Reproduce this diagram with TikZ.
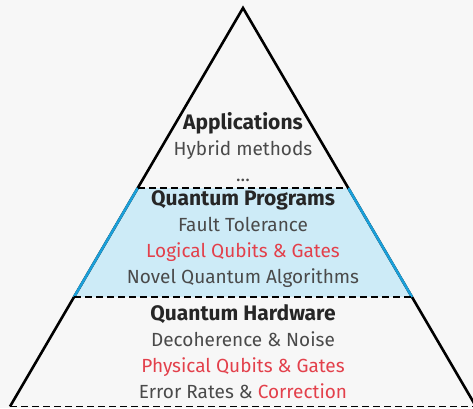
\documentclass[tikz,border=0pt]{standalone}
\usepackage{fontspec}
\setmainfont{Fira Sans}
\usetikzlibrary{positioning, calc}
\definecolor{bgcol}{HTML}{F7F7F7}
\definecolor{txtgray}{HTML}{4A4A4A}
\definecolor{txtdark}{HTML}{262626}
\definecolor{txtred}{HTML}{E3404B}
\definecolor{progfill}{HTML}{CDEBF7}
\definecolor{progline}{HTML}{1A9FD9}
% Schichttitel
\newcommand{\layertitle}[1]{{\fontsize{21}{26}\selectfont\bfseries\color{txtdark}#1}}

\begin{document}
\begin{tikzpicture}[
    x=1pt, y=-1pt,
    % Textblock einer Schicht
    layer/.style={align=center, inner sep=0pt, text=txtgray,
        font=\fontsize{19}{26}\selectfont},
    % Schichtgrenze
    border/.style={dashed, dash pattern=on 7pt off 4pt, line width=1.6pt, black},
    % Seiten der Pyramide
    side/.style={line width=2.6pt, black, line join=miter}
]
\useasboundingbox[fill=bgcol] (0,0) rectangle (473,408);

% Ecken der Pyramide
\coordinate (top) at (243,8);
\coordinate (bl) at (10,406.5);
\coordinate (br) at (476,406.5);
\coordinate (pl) at ($(top)!0.4517!(bl)$);
\coordinate (pr) at ($(top)!0.4517!(br)$);
\coordinate (hl) at ($(top)!0.7252!(bl)$);
\coordinate (hr) at ($(top)!0.7252!(br)$);

% Mittlere Schicht
\fill[progfill] (pl) -- (pr) -- (hr) -- (hl) -- cycle;
\draw[side] (bl) -- (top) -- (br);
\draw[line width=2.6pt, progline] (pl) -- (hl) (pr) -- (hr);
\draw[border] (pl) -- (pr);
\draw[border] (hl) -- (hr);
\draw[border] (bl) -- (br);

% Texte
\node[layer] (apps) at (243,147) {\layertitle{Applications}\\
    Hybrid methods\\ ...};
\node[layer] (progs) at (243,239) {\layertitle{Quantum Programs}\\
    Fault Tolerance\\ \textcolor{txtred}{Logical Qubits \& Gates}\\
    Novel Quantum Algorithms};
\node[layer] (hw) at (243,352) {\layertitle{Quantum Hardware}\\
    Decoherence \& Noise\\ \textcolor{txtred}{Physical Qubits \& Gates}\\
    Error Rates \& \textcolor{txtred}{Correction}};

\end{tikzpicture}
\end{document}
